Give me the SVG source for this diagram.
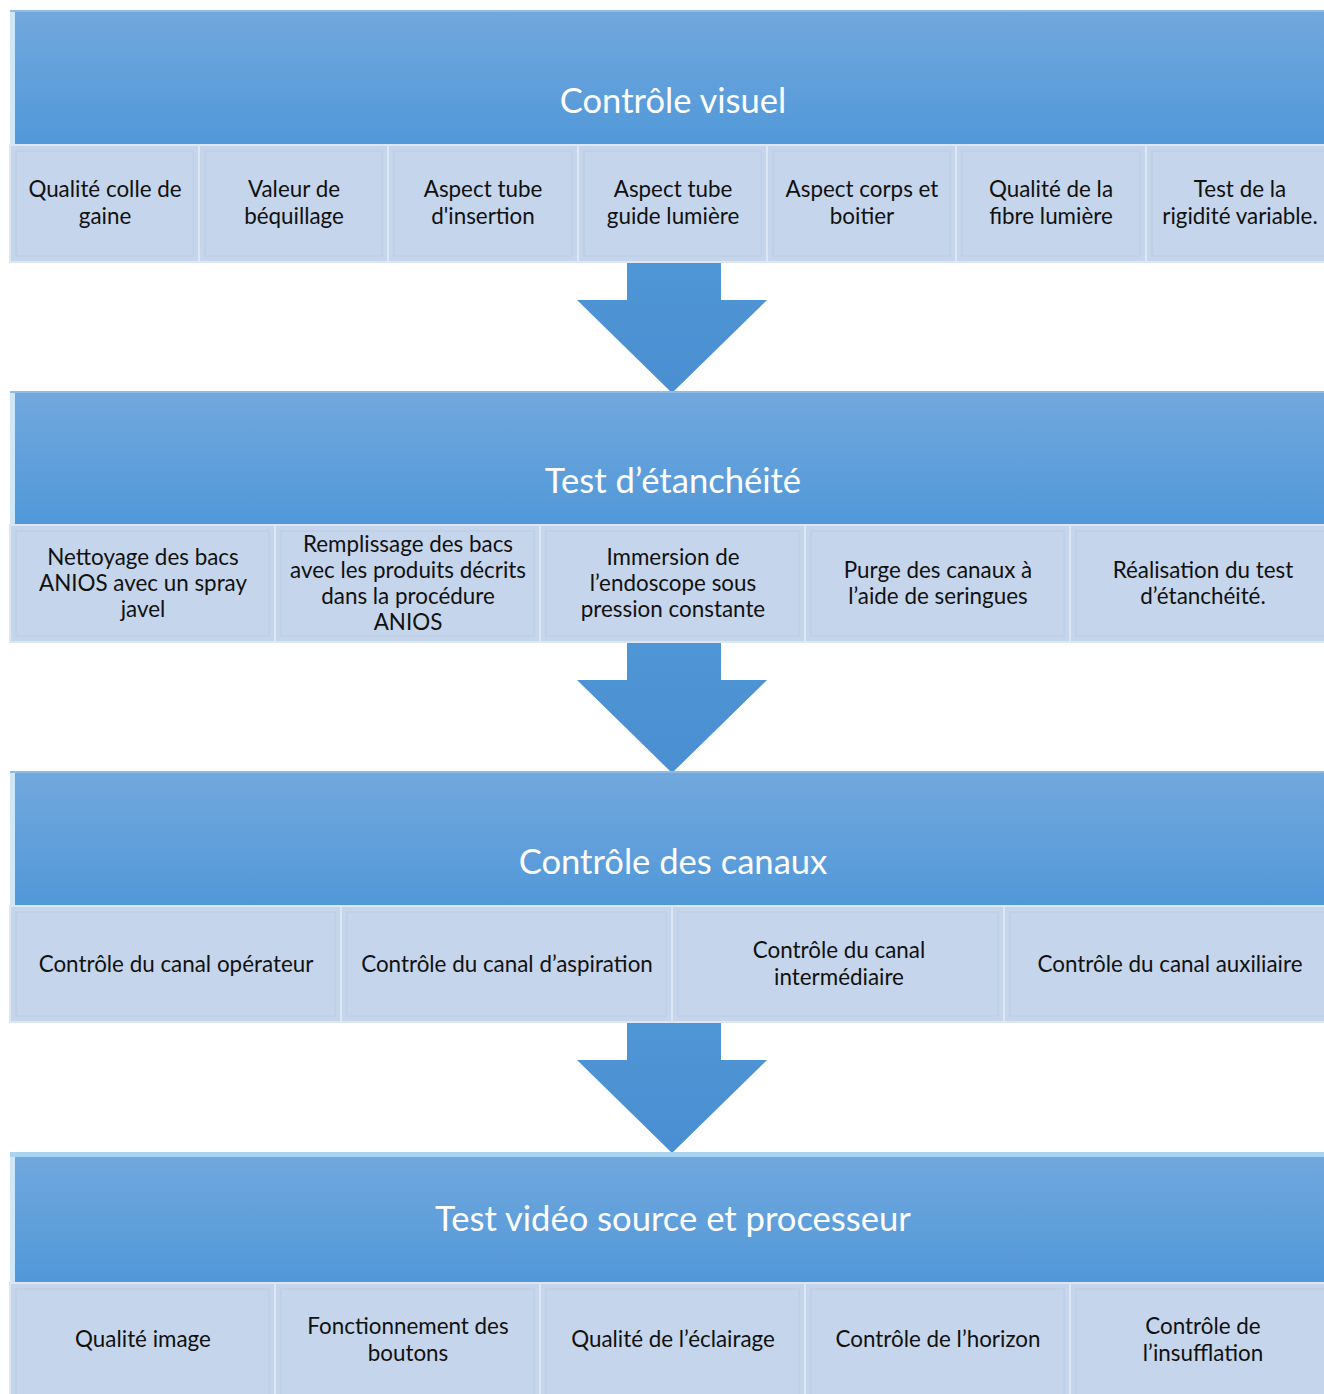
<svg xmlns="http://www.w3.org/2000/svg" width="1324" height="1394" viewBox="0 0 1324 1394">
<defs>
<linearGradient id="bn" x1="0" y1="0" x2="0" y2="1">
<stop offset="0" stop-color="#72a8dd"/>
<stop offset="1" stop-color="#5198d9"/>
</linearGradient>
<linearGradient id="ar" x1="0" y1="0" x2="0" y2="1">
<stop offset="0" stop-color="#4f96d6"/>
<stop offset="1" stop-color="#4a8fd1"/>
</linearGradient>
<style>
.bn{fill:url(#bn)}
.hl{fill:#cde6f8}
.bx{fill:#c5d5eb;stroke:#dde7f3;stroke-width:2}
.bv{fill:none;stroke:#bccde4;stroke-width:1}
.ar{fill:url(#ar)}
.t{font-family:Lato,"Open Sans",sans-serif;font-size:22.4px;fill:#111;text-anchor:middle}
.h{font-family:Lato,"Open Sans",sans-serif;font-size:34.6px;fill:#fff;text-anchor:middle}
</style>
</defs>
<rect width="1324" height="1394" fill="#fff"/>
<g id="connectors">
<polygon class="ar" points="627,262 721,262 721,300 767,300 672,393 577,300 627,300"/>
<polygon class="ar" points="627,642 721,642 721,680 767,680 672,773 577,680 627,680"/>
<polygon class="ar" points="627,1022 721,1022 721,1060 767,1060 672,1153 577,1060 627,1060"/>
</g>
<g id="s1">
<g id="h1"><rect class="bn" x="10" y="10" width="1325" height="134"/><rect class="hl" x="10" y="10" width="5" height="134"/><rect x="10" y="10" width="1325" height="2" fill="#8dbde6"/><text class="h" x="673" y="113">Contrôle visuel</text></g>
<g id="b1_1"><rect class="bx" x="10" y="145" width="189" height="117"/><rect class="bv" x="16" y="151" width="177" height="105"/><text class="t" x="105" y="197">Qualité colle de</text><text class="t" x="105" y="224">gaine</text></g>
<g id="b1_2"><rect class="bx" x="199" y="145" width="189" height="117"/><rect class="bv" x="205" y="151" width="177" height="105"/><text class="t" x="294" y="197">Valeur de</text><text class="t" x="294" y="224">béquillage</text></g>
<g id="b1_3"><rect class="bx" x="388" y="145" width="190" height="117"/><rect class="bv" x="394" y="151" width="178" height="105"/><text class="t" x="483" y="197">Aspect tube</text><text class="t" x="483" y="224">d'insertion</text></g>
<g id="b1_4"><rect class="bx" x="578" y="145" width="189" height="117"/><rect class="bv" x="584" y="151" width="177" height="105"/><text class="t" x="673" y="197">Aspect tube</text><text class="t" x="673" y="224">guide lumière</text></g>
<g id="b1_5"><rect class="bx" x="767" y="145" width="189" height="117"/><rect class="bv" x="773" y="151" width="177" height="105"/><text class="t" x="862" y="197">Aspect corps et</text><text class="t" x="862" y="224">boitier</text></g>
<g id="b1_6"><rect class="bx" x="956" y="145" width="190" height="117"/><rect class="bv" x="962" y="151" width="178" height="105"/><text class="t" x="1051" y="197">Qualité de la</text><text class="t" x="1051" y="224">fibre lumière</text></g>
<g id="b1_7"><rect class="bx" x="1146" y="145" width="189" height="117"/><rect class="bv" x="1152" y="151" width="177" height="105"/><text class="t" x="1240" y="197">Test de la</text><text class="t" x="1240" y="224">rigidité variable.</text></g>
</g>
<g id="s2">
<g id="h2"><rect class="bn" x="10" y="391" width="1325" height="133"/><rect class="hl" x="10" y="391" width="5" height="133"/><rect x="10" y="391" width="1325" height="2" fill="#8dbde6"/><text class="h" x="673" y="493">Test d’étanchéité</text></g>
<g id="b2_1"><rect class="bx" x="10" y="525" width="265" height="117"/><rect class="bv" x="16" y="531" width="253" height="105"/><text class="t" x="143" y="565">Nettoyage des bacs</text><text class="t" x="143" y="591">ANIOS avec un spray</text><text class="t" x="143" y="617">javel</text></g>
<g id="b2_2"><rect class="bx" x="275" y="525" width="265" height="117"/><rect class="bv" x="281" y="531" width="253" height="105"/><text class="t" x="408" y="552">Remplissage des bacs</text><text class="t" x="408" y="578">avec les produits décrits</text><text class="t" x="408" y="604">dans la procédure</text><text class="t" x="408" y="630">ANIOS</text></g>
<g id="b2_3"><rect class="bx" x="540" y="525" width="265" height="117"/><rect class="bv" x="546" y="531" width="253" height="105"/><text class="t" x="673" y="565">Immersion de</text><text class="t" x="673" y="591">l’endoscope sous</text><text class="t" x="673" y="617">pression constante</text></g>
<g id="b2_4"><rect class="bx" x="805" y="525" width="265" height="117"/><rect class="bv" x="811" y="531" width="253" height="105"/><text class="t" x="938" y="578">Purge des canaux à</text><text class="t" x="938" y="604">l’aide de seringues</text></g>
<g id="b2_5"><rect class="bx" x="1070" y="525" width="265" height="117"/><rect class="bv" x="1076" y="531" width="253" height="105"/><text class="t" x="1203" y="578">Réalisation du test</text><text class="t" x="1203" y="604">d’étanchéité.</text></g>
</g>
<g id="s3">
<g id="h3"><rect class="bn" x="10" y="771" width="1325" height="134"/><rect class="hl" x="10" y="771" width="5" height="134"/><rect x="10" y="771" width="1325" height="2" fill="#8dbde6"/><text class="h" x="673" y="874">Contrôle des canaux</text></g>
<g id="b3_1"><rect class="bx" x="10" y="906" width="331" height="116"/><rect class="bv" x="16" y="912" width="319" height="104"/><text class="t" x="176" y="972">Contrôle du canal opérateur</text></g>
<g id="b3_2"><rect class="bx" x="341" y="906" width="331" height="116"/><rect class="bv" x="347" y="912" width="319" height="104"/><text class="t" x="507" y="972">Contrôle du canal d’aspiration</text></g>
<g id="b3_3"><rect class="bx" x="672" y="906" width="332" height="116"/><rect class="bv" x="678" y="912" width="320" height="104"/><text class="t" x="839" y="958">Contrôle du canal</text><text class="t" x="839" y="985">intermédiaire</text></g>
<g id="b3_4"><rect class="bx" x="1004" y="906" width="331" height="116"/><rect class="bv" x="1010" y="912" width="319" height="104"/><text class="t" x="1170" y="972">Contrôle du canal auxiliaire</text></g>
</g>
<g id="s4">
<g id="h4"><rect class="bn" x="10" y="1152" width="1325" height="130"/><rect class="hl" x="10" y="1152" width="5" height="130"/><rect x="10" y="1152" width="1325" height="5" fill="#a9d3f0"/><text class="h" x="673" y="1231">Test vidéo source et processeur</text></g>
<g id="b4_1"><rect class="bx" x="10" y="1283" width="265" height="116"/><rect class="bv" x="16" y="1289" width="253" height="110"/><text class="t" x="143" y="1347">Qualité image</text></g>
<g id="b4_2"><rect class="bx" x="275" y="1283" width="265" height="116"/><rect class="bv" x="281" y="1289" width="253" height="110"/><text class="t" x="408" y="1334">Fonctionnement des</text><text class="t" x="408" y="1361">boutons</text></g>
<g id="b4_3"><rect class="bx" x="540" y="1283" width="265" height="116"/><rect class="bv" x="546" y="1289" width="253" height="110"/><text class="t" x="673" y="1347">Qualité de l’éclairage</text></g>
<g id="b4_4"><rect class="bx" x="805" y="1283" width="265" height="116"/><rect class="bv" x="811" y="1289" width="253" height="110"/><text class="t" x="938" y="1347">Contrôle de l’horizon</text></g>
<g id="b4_5"><rect class="bx" x="1070" y="1283" width="265" height="116"/><rect class="bv" x="1076" y="1289" width="253" height="110"/><text class="t" x="1203" y="1334">Contrôle de</text><text class="t" x="1203" y="1361">l’insufflation</text></g>
</g>
</svg>
